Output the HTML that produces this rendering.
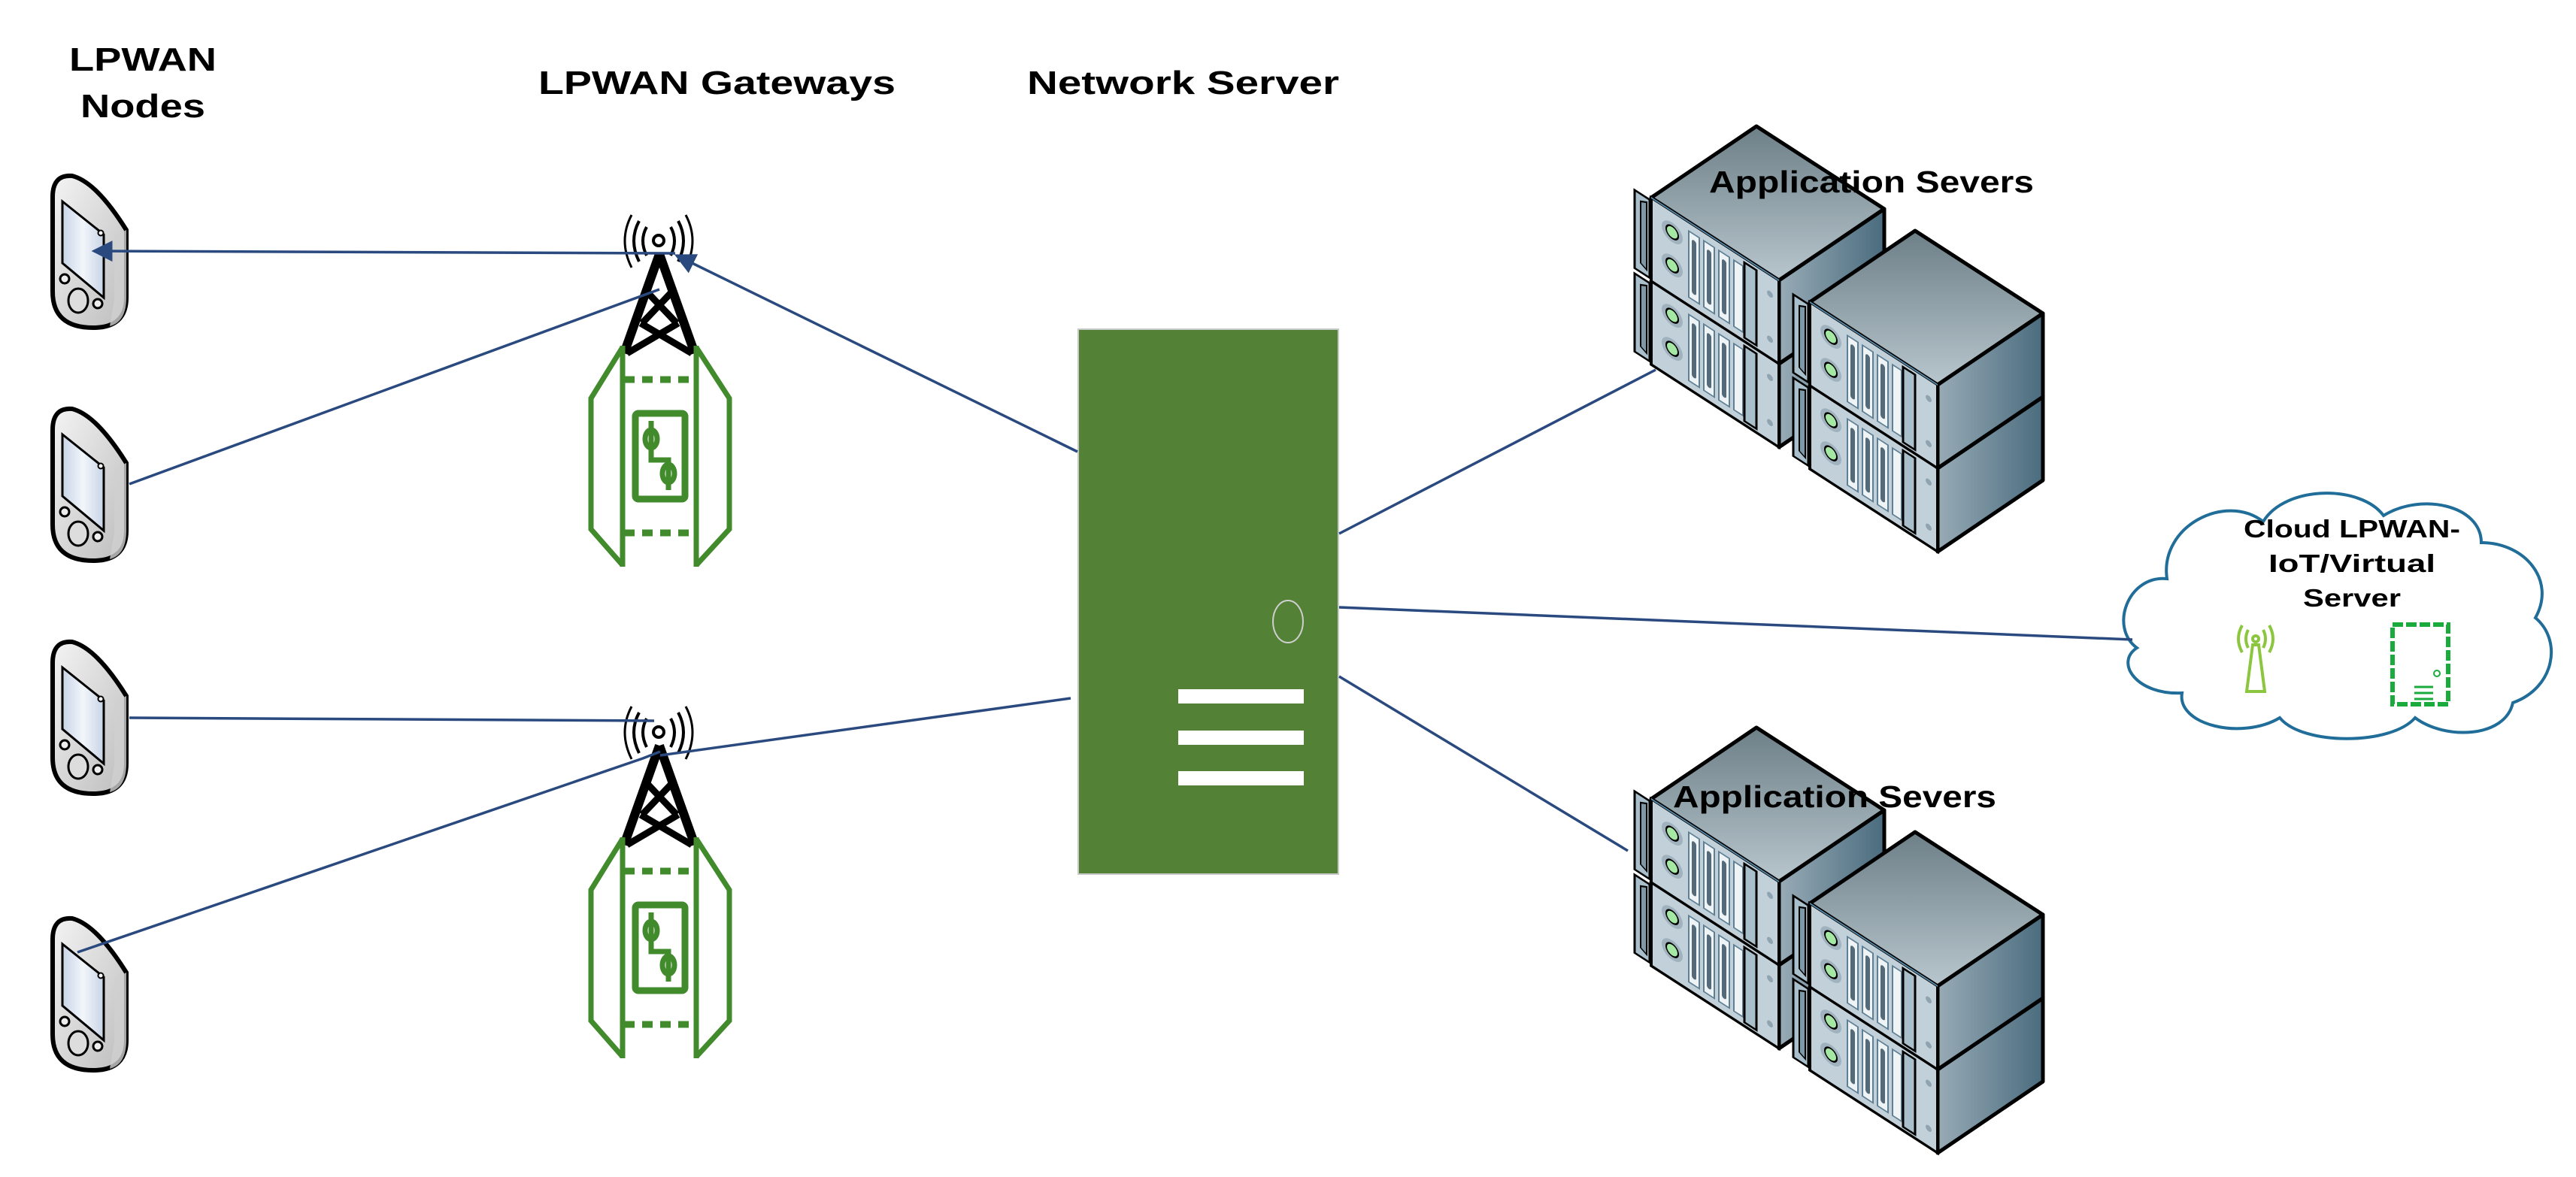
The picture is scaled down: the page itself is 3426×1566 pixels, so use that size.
<!DOCTYPE html>
<html><head><meta charset="utf-8"><style>
html,body{margin:0;padding:0;background:#fff}
svg{display:block}
text{font-family:"Liberation Sans",sans-serif;font-weight:bold;fill:#000}
</style></head><body>
<svg width="3426" height="1566" viewBox="0 0 3426 1566" xmlns="http://www.w3.org/2000/svg">
<defs>
<linearGradient id="phg" x1="0" x2="1" y1="0" y2="1"><stop offset="0" stop-color="#f4f4f4"/><stop offset="1" stop-color="#bdbdbd"/></linearGradient>
<linearGradient id="scr" x1="0" x2="1"><stop offset="0" stop-color="#c8d4e6"/><stop offset="0.5" stop-color="#f2f6fb"/><stop offset="1" stop-color="#c8d4e6"/></linearGradient>
<linearGradient id="topg" x1="0" y1="0" x2="0" y2="1"><stop offset="0" stop-color="#6d7f87"/><stop offset="1" stop-color="#b8c6cd"/></linearGradient>
<linearGradient id="sideg" x1="0" x2="1"><stop offset="0" stop-color="#98abb6"/><stop offset="1" stop-color="#4a6c7e"/></linearGradient>
<marker id="arr" markerWidth="8" markerHeight="8" refX="7" refY="4" orient="auto" markerUnits="strokeWidth"><path d="M0,0 L8,4 L0,8 Z" fill="#2a4a7f"/></marker>

<g id="phone">
  <path d="M4,34 Q4,4 30,6 Q62,14 102,78 L102,168 Q102,208 58,208 Q4,208 4,160 Z" fill="url(#phg)" stroke="#000" stroke-width="6"/>
  <path d="M86,86 L102,78 L102,168 Q102,200 80,206 L86,170 Z" fill="#cfcfcf" opacity="0.8"/>
  <path d="M17,40 L72,84 L72,168 L17,122 Z" fill="url(#scr)" stroke="#000" stroke-width="3"/>
  <circle cx="68" cy="82" r="3.5" fill="#fff" stroke="#000" stroke-width="2"/>
  <circle cx="20" cy="143" r="6" fill="#eee" stroke="#000" stroke-width="3"/>
  <ellipse cx="38" cy="172" rx="13" ry="16" fill="#ddd" stroke="#000" stroke-width="3"/>
  <circle cx="64" cy="176" r="6" fill="#eee" stroke="#000" stroke-width="3"/>
</g>

<g id="tower">
  <circle cx="876" cy="320" r="7" fill="none" stroke="#000" stroke-width="4"/>
  <path d="M860,302 Q850,320 860,340 M892,302 Q902,320 892,340" fill="none" stroke="#000" stroke-width="4"/>
  <path d="M850,294 Q836,320 850,348 M902,294 Q916,320 902,348" fill="none" stroke="#000" stroke-width="4"/>
  <path d="M840,286 Q822,320 840,356 M912,286 Q930,320 912,356" fill="none" stroke="#000" stroke-width="3"/>
  <path d="M877,338 L830,470 M877,338 L924,470" stroke="#000" stroke-width="12" fill="none"/>
  <path d="M862,390 L900,430 M892,390 L854,430 M852,430 L920,470 M902,430 L834,470" stroke="#000" stroke-width="9" fill="none"/>
  <g stroke="#428b2c" stroke-width="7" fill="none">
    <path d="M828,462 L786,530 L786,704 L828,752 M926,462 L970,530 L970,704 L926,752 M828,460 L828,754 M926,460 L926,754"/>
    <path d="M830,505 L924,505 M830,709 L924,709" stroke-dasharray="14,10" stroke-width="9"/>
    <rect x="845" y="550" width="66" height="114" rx="4" stroke-width="9"/>
    <path d="M866,560 L866,612 L889,612 L889,652" stroke-width="7"/>
    <ellipse cx="866" cy="584" rx="8" ry="12" stroke-width="7"/>
    <ellipse cx="889" cy="630" rx="8" ry="12" stroke-width="7"/>
  </g>
</g>

<g id="unit">
  <polygon points="0,0 140,-95 310,15 170,110" fill="url(#topg)" stroke="#000" stroke-width="5" stroke-linejoin="round"/>
  <polygon points="170,110 310,15 310,126 170,221" fill="url(#sideg)" stroke="#000" stroke-width="5" stroke-linejoin="round"/>
  <g transform="matrix(1,0.647,0,1,0,0)">
    <rect x="0" y="0" width="170" height="111" fill="#c2d1d9" stroke="#000" stroke-width="4"/>
    <path d="M0,0 L170,0" stroke="#5b8fb0" stroke-width="2"/>
    <rect x="-22" y="4" width="20" height="104" fill="#a9bfcc" stroke="#000" stroke-width="3"/>
    <path d="M-14,14 L-6,10 L-6,100 L-14,96 Z" fill="#7f98a8" stroke="#000" stroke-width="2"/>
    <ellipse cx="28" cy="28" rx="14" ry="13" fill="#9fb2bd"/>
    <ellipse cx="28" cy="72" rx="14" ry="13" fill="#9fb2bd"/>
    <circle cx="28" cy="28" r="8" fill="#a4e8a4" stroke="#000" stroke-width="2"/>
    <circle cx="28" cy="72" r="8" fill="#a4e8a4" stroke="#000" stroke-width="2"/>
    <g fill="#eef3f6" stroke="#5e7f94" stroke-width="2">
      <rect x="50" y="12" width="14" height="88"/><rect x="70" y="12" width="14" height="88"/><rect x="90" y="12" width="14" height="88"/><rect x="110" y="12" width="12" height="88"/>
    </g>
    <g fill="#556a78">
      <rect x="54" y="20" width="6" height="72" rx="3"/><rect x="74" y="20" width="6" height="72" rx="3"/><rect x="94" y="20" width="6" height="72" rx="3"/>
    </g>
    <rect x="124" y="6" width="16" height="100" fill="#a9bfcc" stroke="#000" stroke-width="3"/>
    <circle cx="158" cy="26" r="4" fill="#8fa4b0"/><circle cx="158" cy="86" r="4" fill="#8fa4b0"/>
  </g>
</g>

<g id="stack">
  <use href="#unit" transform="translate(0,111)"/>
  <use href="#unit" transform="translate(0,0)"/>
  <use href="#unit" transform="translate(211,250)"/>
  <use href="#unit" transform="translate(211,139)"/>
</g>
</defs>

<!-- headings -->
<text x="190" y="94" font-size="44" text-anchor="middle" textLength="196" lengthAdjust="spacingAndGlyphs">LPWAN</text>
<text x="190" y="156" font-size="44" text-anchor="middle" textLength="166" lengthAdjust="spacingAndGlyphs">Nodes</text>
<text x="716" y="125" font-size="44" textLength="475" lengthAdjust="spacingAndGlyphs">LPWAN Gateways</text>
<text x="1366" y="125" font-size="44" textLength="415" lengthAdjust="spacingAndGlyphs">Network Server</text>

<!-- phones -->
<use href="#phone" transform="translate(66,228)"/>
<use href="#phone" transform="translate(66,538)"/>
<use href="#phone" transform="translate(66,848)"/>
<use href="#phone" transform="translate(66,1216)"/>

<!-- towers -->
<use href="#tower"/>
<use href="#tower" transform="translate(0,654)"/>

<!-- network server -->
<rect x="1434" y="438" width="346" height="725" fill="#538135" stroke="#c9c9c9" stroke-width="2"/>
<ellipse cx="1713" cy="827" rx="20" ry="28" fill="none" stroke="#cfcfcf" stroke-width="2"/>
<rect x="1567" y="917" width="167" height="19" fill="#fff"/>
<rect x="1567" y="972" width="167" height="19" fill="#fff"/>
<rect x="1567" y="1026" width="167" height="19" fill="#fff"/>

<!-- app servers -->
<use href="#stack" transform="translate(2196,263)"/>
<use href="#stack" transform="translate(2196,1063)"/>
<text x="2273" y="256" font-size="41" textLength="432" lengthAdjust="spacingAndGlyphs">Application Severs</text>
<text x="2225" y="1074" font-size="41" textLength="430" lengthAdjust="spacingAndGlyphs">Application Severs</text>

<!-- cloud -->
<path d="M2842,862 C2805,835 2830,765 2882,770 C2872,700 2960,655 3010,694 C3040,645 3140,645 3170,686 C3220,655 3300,672 3300,722 C3358,722 3400,772 3372,822 C3408,852 3398,915 3342,935 C3332,982 3252,985 3212,955 C3180,992 3062,992 3032,955 C2982,985 2895,965 2902,922 C2842,925 2812,882 2842,862 Z" fill="#fff" stroke="#1f6d98" stroke-width="4"/>
<text x="3128" y="715" font-size="33" text-anchor="middle" textLength="288" lengthAdjust="spacingAndGlyphs">Cloud LPWAN-</text>
<text x="3128" y="761" font-size="33" text-anchor="middle" textLength="222" lengthAdjust="spacingAndGlyphs">IoT/Virtual</text>
<text x="3128" y="807" font-size="33" text-anchor="middle" textLength="130" lengthAdjust="spacingAndGlyphs">Server</text>
<g stroke="#8cc63f" stroke-width="4" fill="none">
  <circle cx="3000" cy="850" r="4"/>
  <path d="M2990,838 Q2984,850 2990,862 M3010,838 Q3016,850 3010,862 M2982,832 Q2972,850 2982,868 M3018,832 Q3028,850 3018,868"/>
  <path d="M2996,858 L2988,920 L3012,920 L3004,858 Z"/>
</g>
<rect x="3182" y="831" width="74" height="106" fill="none" stroke="#1aab3c" stroke-width="6" stroke-dasharray="14,4"/>
<path d="M3211,914 L3236,914 M3211,922 L3236,922 M3211,930 L3236,930" stroke="#1aab3c" stroke-width="3"/>
<circle cx="3241" cy="896" r="4" fill="none" stroke="#1aab3c" stroke-width="2"/>

<!-- connectors -->
<g stroke="#2a4a7f" stroke-width="3.5" fill="none">
  <line x1="898" y1="337" x2="125" y2="334" marker-end="url(#arr)"/>
  <line x1="877" y1="385" x2="172" y2="644"/>
  <line x1="1433" y1="601" x2="900" y2="340" marker-end="url(#arr)"/>
  <line x1="172" y1="955" x2="870" y2="959"/>
  <polyline points="103,1267 855,1009 878,1000"/>
  <line x1="878" y1="1005" x2="1424" y2="929"/>
  <line x1="1781" y1="710" x2="2202" y2="492"/>
  <line x1="1781" y1="808" x2="2836" y2="851"/>
  <line x1="1781" y1="900" x2="2165" y2="1132"/>
</g>
</svg>
</body></html>
